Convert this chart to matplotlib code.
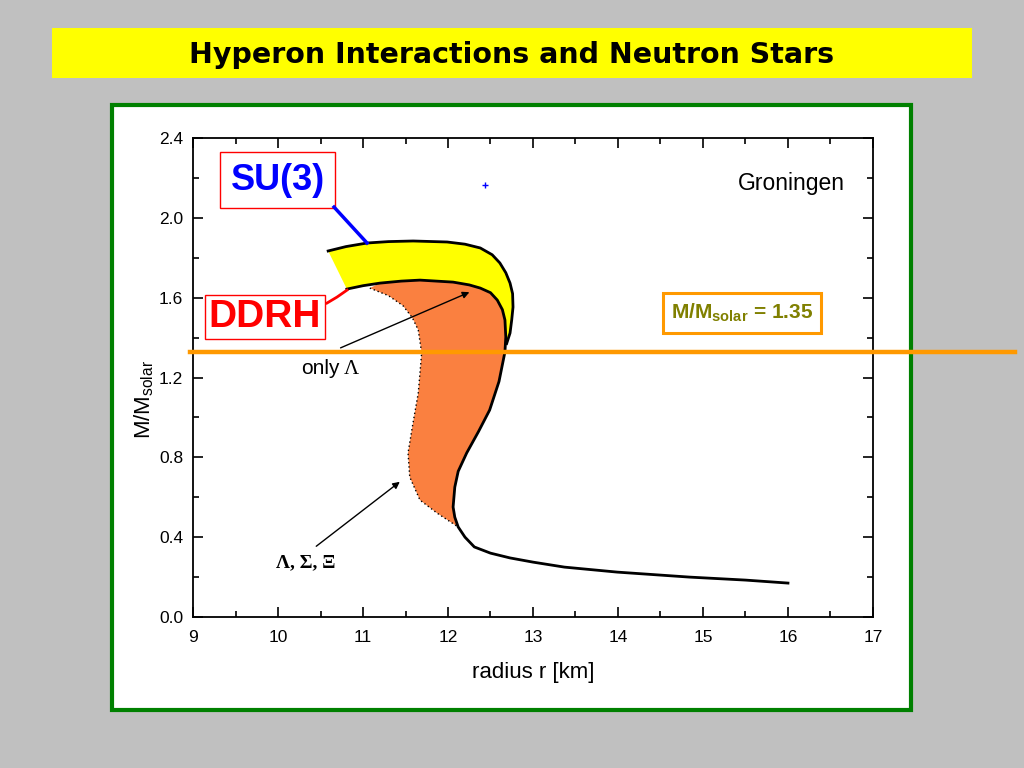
import numpy as np
import matplotlib.pyplot as plt
from matplotlib.patches import Rectangle, Polygon

plt.rcParams['font.family'] = ['Liberation Sans', 'DejaVu Sans']
plt.rcParams['mathtext.fontset'] = 'custom'
plt.rcParams['mathtext.rm'] = 'Liberation Sans'
plt.rcParams['mathtext.bf'] = 'Liberation Sans:bold'

# SU(3) branch (upper edge of yellow band)
su3_r = [10.59, 10.80, 11.05, 11.30, 11.59, 11.99, 12.20, 12.38, 12.52, 12.61, 12.68, 12.73, 12.76, 12.765, 12.75, 12.73, 12.69]
su3_m = [1.834, 1.856, 1.874, 1.881, 1.884, 1.879, 1.868, 1.849, 1.815, 1.774, 1.725, 1.673, 1.62, 1.553, 1.49, 1.423, 1.37]

# DDRH, only Lambda (solid curve incl. low-mass tail)
ddrh_r = [10.81, 11.00, 11.20, 11.45, 11.67, 12.06, 12.25, 12.38, 12.50, 12.58, 12.64, 12.67, 12.68,
          12.67, 12.60, 12.49, 12.36, 12.22, 12.12, 12.08, 12.06, 12.08, 12.12, 12.20, 12.31, 12.50,
          12.73, 13.00, 13.37, 13.99, 14.84, 15.50, 16.00]
ddrh_m = [1.643, 1.660, 1.673, 1.683, 1.688, 1.678, 1.664, 1.648, 1.625, 1.588, 1.54, 1.488, 1.403,
          1.328, 1.18, 1.037, 0.93, 0.822, 0.73, 0.651, 0.551, 0.50, 0.451, 0.40, 0.351, 0.32,
          0.296, 0.275, 0.25, 0.225, 0.20, 0.185, 0.17]

# DDRH with Lambda, Sigma, Xi (dotted left edge of orange band)
hyp_r = [11.08, 11.30, 11.47, 11.58, 11.65, 11.69, 11.65, 11.58, 11.53, 11.55, 11.67, 11.87, 12.12]
hyp_m = [1.648, 1.61, 1.56, 1.50, 1.438, 1.323, 1.122, 0.952, 0.822, 0.701, 0.586, 0.521, 0.451]

m_line = 1.33
dot_r, dot_m = 12.435, 2.164

fig = plt.figure(figsize=(10.24, 7.68), dpi=100)
fig.patch.set_facecolor('#C0C0C0')

fig.add_artist(Rectangle((0.0508, 0.8984), 0.8984, 0.0651, transform=fig.transFigure,
                         facecolor='#FFFF00', edgecolor='none', zorder=-2))
fig.text(0.5, 0.928, 'Hyperon Interactions and Neutron Stars', ha='center', va='center',
         fontsize=20.5, fontweight='bold', family='DejaVu Sans')
fig.add_artist(Rectangle((0.1094, 0.0755), 0.7803, 0.7878, transform=fig.transFigure,
                         facecolor='white', edgecolor='#008000', lw=3, zorder=-1))

ax = fig.add_axes([0.1885, 0.1966, 0.664, 0.6237])
ax.set_xlim(9, 17)
ax.set_ylim(0, 2.4)
ax.set_xticks(range(9, 18))
ax.set_xticks(np.arange(9.5, 17, 1), minor=True)
ax.set_yticks(np.arange(0, 2.41, 0.4))
ax.set_yticks(np.arange(0.2, 2.4, 0.4), minor=True)
ax.yaxis.set_major_formatter(plt.FormatStrFormatter('%.1f'))
ax.tick_params(which='both', direction='in', top=True, right=True, width=1.2, labelsize=12.5)
ax.tick_params(axis='x', pad=9)
ax.tick_params(axis='y', pad=7)
ax.tick_params(which='major', length=7)
ax.tick_params(which='minor', length=4)
for s in ax.spines.values():
    s.set_linewidth(1.3)

ax.set_xlabel('radius r [km]', fontsize=16)
ax.set_ylabel(r'M/M$_{\mathrm{solar}}$', fontsize=16)
ax.xaxis.set_label_coords(0.5, -0.093)
ax.yaxis.set_label_coords(-0.055, 0.453)

# bands
n_top = 13
n_bot = 22
orange = list(zip(hyp_r, hyp_m)) + list(zip(ddrh_r[n_bot:1:-1], ddrh_m[n_bot:1:-1]))
ax.add_patch(Polygon(orange, closed=True, facecolor='#FA8040', edgecolor='none', zorder=1))
yellow = list(zip(su3_r, su3_m)) + list(zip(ddrh_r[n_top - 1::-1], ddrh_m[n_top - 1::-1]))
ax.add_patch(Polygon(yellow, closed=True, facecolor='#FFFF00', edgecolor='none', zorder=1))

ax.plot(su3_r, su3_m, color='black', lw=2, zorder=3)
ax.plot(ddrh_r, ddrh_m, color='black', lw=2, zorder=3)
ax.plot(hyp_r, hyp_m, color='black', lw=1, ls=(0, (1, 2)), zorder=3)
ax.plot(dot_r, dot_m, marker='+', color='blue', ms=4, mew=1)

# horizontal M = 1.35 line
ax.plot([8.96, 18.67], [m_line, m_line], color='#FF9900', lw=3.2, clip_on=False, zorder=6)

# labels
ax.plot([10.659, 11.047], [2.054, 1.874], color='blue', lw=2.5, zorder=4)
ax.text(9.994, 2.189, 'SU(3)', color='blue', fontsize=26, fontweight='bold', ha='center', va='center',
        bbox=dict(boxstyle='square,pad=0.29', facecolor='white', edgecolor='red', lw=1))
ax.plot([10.576, 10.694, 10.812], [1.573, 1.603, 1.638], color='red', lw=2, zorder=4)
ax.text(9.847, 1.505, 'DDRH', color='red', fontsize=28, fontweight='bold', ha='center', va='center',
        bbox=dict(boxstyle='square,pad=0.1', facecolor='white', edgecolor='red', lw=1))
ax.text(15.459, 1.523, r'M/M$_{\mathbf{solar}}$ = 1.35', color='#808000', fontsize=15, fontweight='bold',
        ha='center', va='center',
        bbox=dict(boxstyle='square,pad=0.4', facecolor='white', edgecolor='#FF9900', lw=2.2))
ax.text(16.67, 2.174, 'Groningen', fontsize=16.5, ha='right', va='center')

ax.text(10.72, 1.247, 'only', fontsize=15, ha='right', va='center')
ax.text(10.77, 1.240, 'Λ', fontsize=15, family='Liberation Serif', ha='left', va='center')
ax.annotate('', xy=(12.282, 1.633), xytext=(10.706, 1.343),
            arrowprops=dict(arrowstyle='-|>', color='black', lw=1, mutation_scale=10), zorder=4)
ax.text(9.98, 0.27, 'Λ, Σ, Ξ', fontsize=14, fontweight='bold', family='Liberation Serif',
        ha='left', va='center')
ax.annotate('', xy=(11.459, 0.686), xytext=(10.424, 0.346),
            arrowprops=dict(arrowstyle='-|>', color='black', lw=1, mutation_scale=10), zorder=4)

fig.savefig('out.png', dpi=100, facecolor=fig.get_facecolor())
